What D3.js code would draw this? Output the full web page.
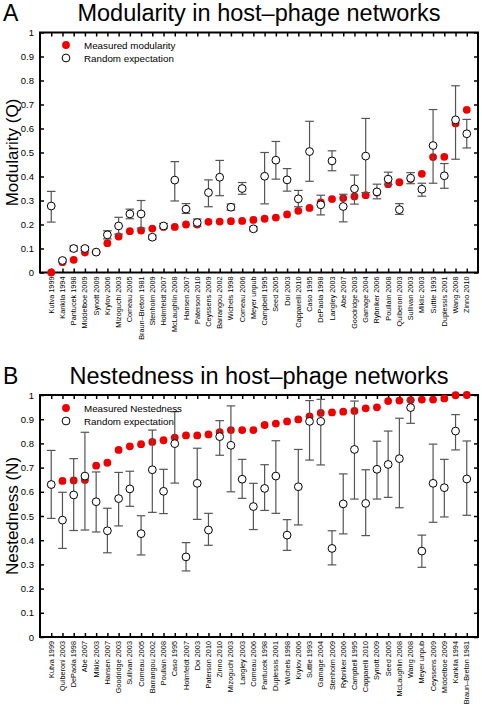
<!DOCTYPE html>
<html>
<head>
<meta charset="utf-8">
<script src="https://cdn.jsdelivr.net/npm/d3@7"></script>
<style>
  html, body { margin: 0; padding: 0; background: #fff; }
  svg { display: block; font-family: "Liberation Sans", Arial, Helvetica, sans-serif; }
</style>
</head>
<body>
<svg id="chart" width="482" height="708"></svg>
<script>
// ---------- Panel A: Modularity ----------
const modCategories = ["Kutva 1999","Kankila 1994","Pantucek 1998","Middelboe 2009","Synott 2009","Krylov 2006","Mizoguchi 2003","Comeau 2005","Braun\u2013Breton 1981","Stenholm 2009","Holmfeldt 2007","McLaughlin 2008","Hansen 2007","Paterson 2010","Ceyssens 2009","Barrangou 2002","Wichels 1998","Comeau 2006","Meyer unpub","Campbell 1995","Seed 2005","Doi 2003","Capparelli 2010","Caso 1995","DePaola 1998","Langley 2003","Abe 2007","Goodridge 2003","Gamage 2004","Rybniker 2006","Poullain 2008","Quiberoni 2003","Sullivan 2003","Miklic 2003","Suttle 1993","Duplessis 2001","Wang 2008","Zinno 2010"];
const modMeasured = [0.0,0.043,0.053,0.083,0.085,0.122,0.15,0.172,0.175,0.183,0.19,0.19,0.20,0.20,0.211,0.212,0.214,0.215,0.219,0.224,0.229,0.242,0.257,0.269,0.292,0.306,0.31,0.317,0.322,0.333,0.368,0.376,0.39,0.411,0.481,0.482,0.621,0.678];
const modRandom = [0.277,0.05,0.10,0.10,0.085,0.157,0.194,0.244,0.244,0.147,0.194,0.385,0.264,0.208,0.333,0.397,0.272,0.35,0.182,0.401,0.468,0.386,0.307,0.504,0.282,0.465,0.275,0.349,0.485,0.336,0.389,0.262,0.393,0.347,0.529,0.403,0.636,0.578];
const modLower = [0.21,0.045,0.09,0.092,0.082,0.14,0.16,0.224,0.185,0.139,0.184,0.298,0.246,0.193,0.274,0.32,0.26,0.326,0.174,0.286,0.389,0.339,0.274,0.38,0.24,0.424,0.211,0.285,0.333,0.307,0.367,0.242,0.37,0.318,0.372,0.351,0.472,0.519];
const modUpper = [0.338,0.055,0.11,0.108,0.088,0.174,0.23,0.264,0.30,0.155,0.204,0.462,0.287,0.223,0.386,0.467,0.285,0.375,0.19,0.50,0.546,0.433,0.342,0.63,0.322,0.507,0.326,0.406,0.642,0.368,0.418,0.287,0.416,0.372,0.679,0.454,0.778,0.638];

// ---------- Panel B: Nestedness ----------
const nesCategories = ["Kutva 1999","Quiberoni 2003","DePaola 1998","Abe 2007","Miklic 2003","Hansen 2007","Goodridge 2003","Sullivan 2003","Comeau 2005","Barrangou 2002","Poullain 2008","Caso 1995","Holmfeldt 2007","Doi 2003","Paterson 2010","Zinno 2010","Mizoguchi 2003","Langley 2003","Comeau 2006","Pantucek 1998","Duplessis 2001","Wichels 1998","Krylov 2006","Suttle 1993","Gamage 2004","Stenholm 2009","Rybniker 2006","Campbell 1995","Capparelli 2010","Synott 2009","Seed 2005","McLaughlin 2008","Wang 2008","Meyer unpub","Ceyssens 2009","Middelboe 2009","Kankila 1994","Braun\u2013Breton 1981"];
const nesMeasured = [0.63,0.645,0.647,0.649,0.708,0.72,0.773,0.788,0.797,0.806,0.813,0.824,0.833,0.833,0.837,0.846,0.855,0.855,0.855,0.876,0.882,0.891,0.899,0.912,0.926,0.928,0.931,0.934,0.945,0.949,0.975,0.977,0.979,0.981,0.981,0.986,0.999,1.0];
const nesRandom = [0.63,0.483,0.587,0.665,0.559,0.439,0.572,0.612,0.427,0.691,0.602,0.799,0.331,0.635,0.442,0.828,0.792,0.652,0.539,0.614,0.665,0.421,0.621,0.891,0.891,0.366,0.55,0.775,0.552,0.693,0.713,0.737,0.948,0.355,0.635,0.617,0.851,0.653];
const nesLower = [0.49,0.366,0.44,0.442,0.434,0.348,0.459,0.54,0.339,0.515,0.51,0.636,0.273,0.486,0.379,0.751,0.60,0.573,0.444,0.523,0.511,0.358,0.463,0.731,0.711,0.298,0.426,0.57,0.419,0.57,0.577,0.534,0.883,0.288,0.474,0.496,0.773,0.503];
const nesUpper = [0.771,0.598,0.737,0.846,0.682,0.532,0.68,0.685,0.501,0.855,0.693,0.931,0.39,0.78,0.511,0.894,0.955,0.734,0.635,0.712,0.811,0.485,0.775,0.977,0.982,0.439,0.674,0.975,0.691,0.809,0.851,0.904,0.979,0.421,0.797,0.734,0.919,0.81];

const yTickValues = [0,0.1,0.2,0.3,0.4,0.5,0.6,0.7,0.8,0.9,1];
const yTickLabels = ["0","0.1","0.2","0.3","0.4","0.5","0.6","0.7","0.8","0.9","1"];

const svg = d3.select("#chart");

function drawPanel(cfg) {
  const left = 40, right = 478;
  const n = cfg.categories.length;
  const x = d3.scaleLinear().domain([0, n + 1]).range([left, right]);
  const y = d3.scaleLinear().domain([0, 1]).range([cfg.bottom, cfg.top]);
  const g = svg.append("g");
  const idx = d3.range(n);
  const tickLen = 4;

  // Title and panel letter
  g.append("text").attr("x", 3).attr("y", cfg.titleY)
    .attr("font-size", 23).attr("fill", "#000").text(cfg.letter);
  g.append("text").attr("x", (left + right) / 2).attr("y", cfg.titleY)
    .attr("text-anchor", "middle").attr("font-size", 23.5).attr("fill", "#000").text(cfg.title);

  // Y label
  g.append("text")
    .attr("transform", `translate(18,${(cfg.top + cfg.bottom) / 2}) rotate(-90)`)
    .attr("text-anchor", "middle").attr("font-size", 17).attr("fill", "#000")
    .text(cfg.ylabel);

  // Axes with inward ticks
  const xPos = idx.map(i => i + 1);
  const bottomAxis = d3.axisBottom(x).tickValues(xPos).tickSizeInner(-tickLen).tickSizeOuter(0).tickFormat("");
  const topAxis = d3.axisTop(x).tickValues(xPos).tickSizeInner(-tickLen).tickSizeOuter(0).tickFormat("");
  const leftAxis = d3.axisLeft(y).tickValues(yTickValues).tickSizeInner(-tickLen).tickSizeOuter(0)
    .tickPadding(6).tickFormat((d, i) => yTickLabels[i]);
  const rightAxis = d3.axisRight(y).tickValues(yTickValues).tickSizeInner(-tickLen).tickSizeOuter(0).tickFormat("");

  const ab = g.append("g").attr("transform", `translate(0,${cfg.bottom})`).call(bottomAxis);
  const at = g.append("g").attr("transform", `translate(0,${cfg.top})`).call(topAxis);
  const al = g.append("g").attr("transform", `translate(${left},0)`).call(leftAxis);
  const ar = g.append("g").attr("transform", `translate(${right},0)`).call(rightAxis);
  [ab, at, al, ar].forEach(a => {
    a.select(".domain").remove();
    a.selectAll(".tick line").attr("stroke", "#000").attr("stroke-width", 1.5);
  });
  al.selectAll(".tick text").attr("font-size", 9.5).attr("fill", "#000")
    .attr("font-family", "'Liberation Sans', Arial, sans-serif").attr("x", -6);

  // Frame
  g.append("rect").attr("x", left).attr("y", cfg.top)
    .attr("width", right - left).attr("height", cfg.bottom - cfg.top)
    .attr("fill", "none").attr("stroke", "#000").attr("stroke-width", 2);

  // Category labels
  g.selectAll(".cat").data(cfg.categories).enter().append("text")
    .attr("class", "cat")
    .attr("transform", (d, i) => `translate(${x(i + 1) + 2.5},${cfg.bottom + 4}) rotate(-90)`)
    .attr("text-anchor", "end").attr("font-size", 7.3).attr("fill", "#000")
    .text(d => d);

  // Measured (red filled)
  g.selectAll(".meas").data(cfg.measured).enter().append("circle")
    .attr("cx", (d, i) => x(i + 1)).attr("cy", d => y(d)).attr("r", 3.9)
    .attr("fill", "#ee0000").attr("stroke", "none");

  // Error bars
  const capW = 4.3;
  idx.forEach(i => {
    const xc = x(i + 1);
    const lo = y(cfg.lower[i]), hi = y(cfg.upper[i]);
    g.append("line").attr("x1", xc).attr("x2", xc).attr("y1", lo).attr("y2", hi)
      .attr("stroke", "#555").attr("stroke-width", 1.2);
    [lo, hi].forEach(yy => g.append("line")
      .attr("x1", xc - capW).attr("x2", xc + capW).attr("y1", yy).attr("y2", yy)
      .attr("stroke", "#555").attr("stroke-width", 1.2));
  });

  // Random expectation (open)
  g.selectAll(".rand").data(cfg.random).enter().append("circle")
    .attr("cx", (d, i) => x(i + 1)).attr("cy", d => y(d)).attr("r", 3.9)
    .attr("fill", "#fff").attr("stroke", "#000").attr("stroke-width", 1);

  // Legend
  const lx = 66, ly = cfg.top + cfg.legendOffset;
  g.append("circle").attr("cx", lx).attr("cy", ly).attr("r", 3.9).attr("fill", "#ee0000");
  g.append("circle").attr("cx", lx).attr("cy", ly + 13).attr("r", 3.9)
    .attr("fill", "#fff").attr("stroke", "#000").attr("stroke-width", 1);
  g.append("text").attr("x", 84).attr("y", ly + 3.5).attr("font-size", 9.8).attr("fill", "#000").text(cfg.legend1);
  g.append("text").attr("x", 84).attr("y", ly + 16.5).attr("font-size", 9.8).attr("fill", "#000").text("Random expectation");
}

drawPanel({
  letter: "A", title: "Modularity in host\u2013phage networks", titleY: 21,
  ylabel: "Modularity (Q)", top: 32.5, bottom: 272.5, legendOffset: 12.5,
  legend1: "Measured modularity",
  categories: modCategories, measured: modMeasured, random: modRandom,
  lower: modLower, upper: modUpper
});

drawPanel({
  letter: "B", title: "Nestedness in host\u2013phage networks", titleY: 384,
  ylabel: "Nestedness (N)", top: 395, bottom: 637, legendOffset: 13,
  legend1: "Measured Nestedness",
  categories: nesCategories, measured: nesMeasured, random: nesRandom,
  lower: nesLower, upper: nesUpper
});
</script>
</body>
</html>
